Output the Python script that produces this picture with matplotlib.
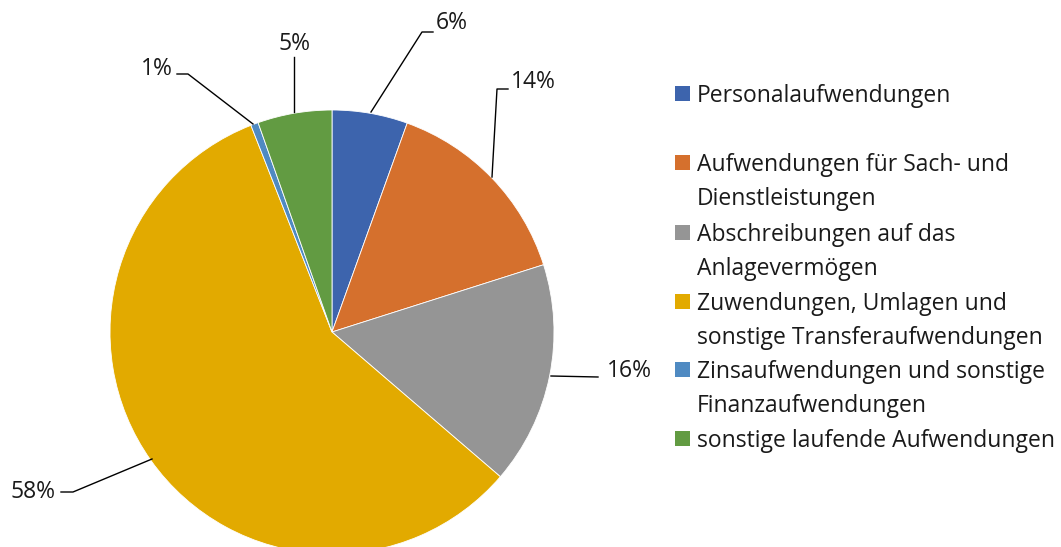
import matplotlib.pyplot as plt
from matplotlib.patches import Rectangle

plt.rcParams['font.family'] = ['Open Sans', 'DejaVu Sans']

# Anteile der Aufwendungen (in %)
categories = [
    "Personalaufwendungen",
    "Aufwendungen für Sach- und\nDienstleistungen",
    "Abschreibungen auf das\nAnlagevermögen",
    "Zuwendungen, Umlagen und\nsonstige Transferaufwendungen",
    "Zinsaufwendungen und sonstige\nFinanzaufwendungen",
    "sonstige laufende Aufwendungen",
]
shares = [5.5, 14.6, 16.2, 57.75, 0.55, 5.4]
pct_labels = ["6%", "14%", "16%", "58%", "1%", "5%"]
colors = ["#3D64AD", "#D5702D", "#959595", "#E2AA00", "#4F8AC2", "#629B42"]

W, H = 1061, 547
FS = 16.5


def py(y):
    # pixel row (top = 0) -> data y
    return H - y


fig = plt.figure(figsize=(W / 100, H / 100), dpi=100)
ax = fig.add_axes([0, 0, 1, 1])

ax.pie(shares, colors=colors, startangle=90, counterclock=False,
       center=(332, py(332)), radius=222,
       wedgeprops=dict(edgecolor='white', linewidth=0.6))

ax.set_xlim(0, W)
ax.set_ylim(0, H)
ax.set_aspect('equal')
ax.axis('off')

# leader lines (pixel coords) and label anchor
leaders = [
    ([(371, 112), (422, 32), (433, 32)], (436, 23), 'left'),
    ([(492, 177), (497, 89), (508, 89)], (511, 82), 'left'),
    ([(551, 376), (598, 377)], (607, 371), 'left'),
    ([(152, 459), (73, 492), (61, 492)], (56, 492), 'right'),
    ([(253, 124), (188, 74), (177, 74)], (173, 69), 'right'),
    ([(294, 112), (294, 57)], (294, 44), 'center'),
]
for (pts, pos, ha), lab in zip(leaders, pct_labels):
    ax.plot([p[0] for p in pts], [py(p[1]) for p in pts], color='black', lw=1)
    ax.text(pos[0], py(pos[1]), lab, ha=ha, va='center', fontsize=FS, color='#1a1a1a')

# legend
rows = [93, 162, 232, 301, 369, 438]
for cat, col, y in zip(categories, colors, rows):
    ax.add_patch(Rectangle((675, py(y + 7.5)), 15, 15, facecolor=col, edgecolor='none'))
    for i, line in enumerate(cat.split("\n")):
        ax.text(697, py(y + i * 34), line, ha='left', va='center_baseline',
                fontsize=FS, color='#1a1a1a')

fig.savefig('out.png', dpi=100)
